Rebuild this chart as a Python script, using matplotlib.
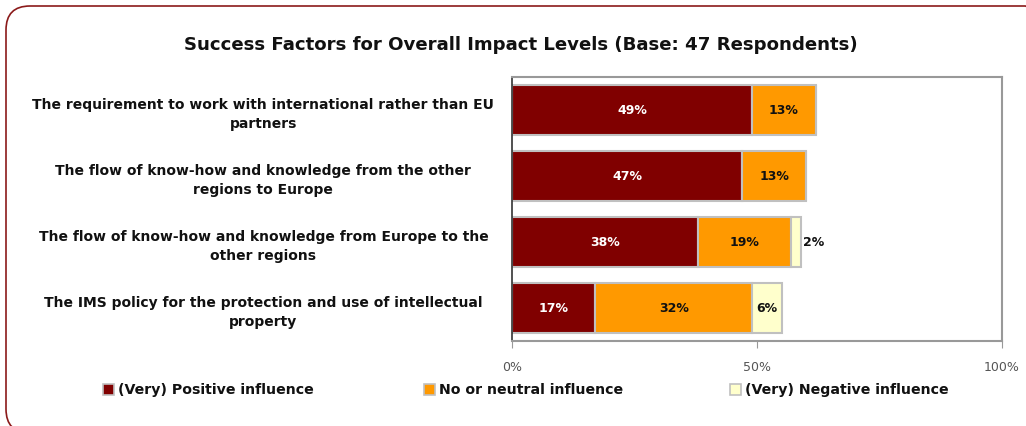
import matplotlib
matplotlib.use("Agg")
import matplotlib.pyplot as plt
from matplotlib.patches import FancyBboxPatch
from matplotlib.transforms import IdentityTransform

categories = [
    "The requirement to work with international rather than EU\npartners",
    "The flow of know-how and knowledge from the other\nregions to Europe",
    "The flow of know-how and knowledge from Europe to the\nother regions",
    "The IMS policy for the protection and use of intellectual\nproperty",
]
positive = [49, 47, 38, 17]
neutral = [13, 13, 19, 32]
negative = [0, 0, 2, 6]
series_names = ["(Very) Positive influence", "No or neutral influence", "(Very) Negative influence"]
colors = ["#800000", "#FF9900", "#FFFFCC"]
label_colors = ["white", "#111111", "#111111"]
xticks = [0, 50, 100]
xtick_labels = ["0%", "50%", "100%"]
title = "Success Factors for Overall Impact Levels (Base: 47 Respondents)"

plt.rcParams['font.family'] = ['DejaVu Sans']

fig = plt.figure(figsize=(10.26, 4.27), dpi=100)
W, H = 1026, 427

# rounded border (in pixel coordinates)
border = FancyBboxPatch((6, -7), 1043, 427,
                        boxstyle="round,pad=0,rounding_size=24",
                        transform=IdentityTransform(), fill=False,
                        edgecolor="#8B1A1A", linewidth=1.2)
fig.patches.append(border)

ax = fig.add_axes([512 / W, 1 - 342 / H, (1002 - 512) / W, (342 - 78) / H])

y = list(range(len(categories)))
lefts = [0] * len(categories)
for vals, col, lc in zip([positive, neutral, negative], colors, label_colors):
    ax.barh(y, vals, left=lefts, height=0.75, color=col,
            edgecolor="#C0C0C0", linewidth=1.5)
    for yi, v, l in zip(y, vals, lefts):
        if v > 0:
            xpos = l + v / 2
            ha = "center"
            if v < 4:
                xpos = l + v + 0.3
                ha = "left"
            ax.text(xpos, yi, f"{v}%", ha=ha, va="center", color=lc,
                    fontsize=9, fontweight="bold")
    lefts = [a + b for a, b in zip(lefts, vals)]

ax.set_xlim(0, 100)
ax.set_ylim(3.5, -0.5)
ax.set_yticks(y)
ax.set_yticklabels(categories, fontsize=10, fontweight="bold", ha="center",
                   color="#111111", linespacing=1.45)
ax.tick_params(axis="y", length=0, pad=179)
ax.set_xticks(xticks)
ax.set_xticklabels(xtick_labels, fontsize=9, color="#555555")
ax.tick_params(axis="x", length=5, color="#999999", pad=9)
for s in ["top", "right", "bottom"]:
    ax.spines[s].set_color("#999999")
    ax.spines[s].set_linewidth(1.5)
ax.spines["left"].set_color("#333333")
ax.spines["left"].set_linewidth(1.2)

fig.text(521 / W, 1 - 45 / H, title, ha="center", va="center",
         fontsize=13.1, fontweight="bold", color="#111111")

# legend
leg_x = [103, 424, 730]
for lx, name, col in zip(leg_x, series_names, colors):
    fig.patches.append(plt.Rectangle((lx / W, 1 - 396 / H), 11 / W, 11 / H,
                                     transform=fig.transFigure, facecolor=col,
                                     edgecolor="#C0C0C0", linewidth=1.2))
    fig.text((lx + 15) / W, 1 - 390 / H, name, ha="left", va="center",
             fontsize=10.2, fontweight="bold", color="#111111")

fig.savefig("out.png", dpi=100)
